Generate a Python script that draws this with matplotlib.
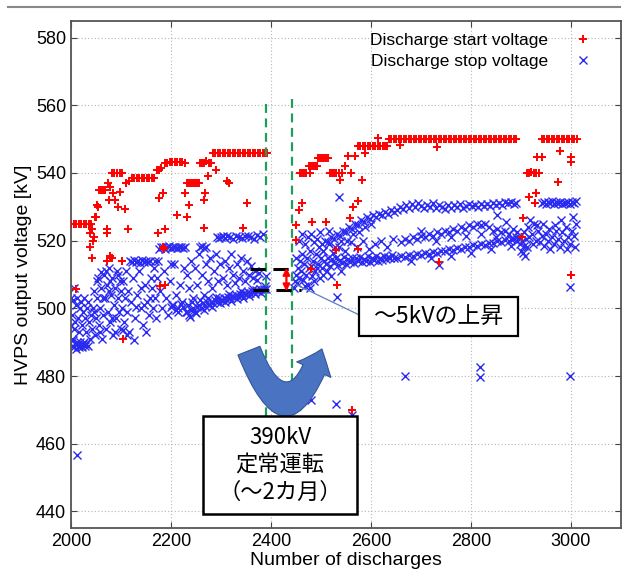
import matplotlib
matplotlib.use("Agg")
import matplotlib.pyplot as plt
from matplotlib.patches import FancyArrowPatch, Rectangle
from matplotlib.lines import Line2D

plt.rcParams["font.family"] = ["Liberation Sans", "DejaVu Sans"]
JP = ["Noto Sans CJK JP", "DejaVu Sans"]

# ── data: (number of discharges, voltage kV) ───────────────────────────────
# discharge start voltage, first period (before the 390 kV run)
start_pts_1 = [
    (2000, 525), (2005, 525), (2010, 525), (2015, 525), (2020, 525), (2025, 525),
    (2030, 525), (2035, 525), (2040, 525),
    (2056, 535), (2060, 535), (2064, 535), (2068, 535),
    (2082, 540), (2086, 540), (2092, 540), (2098, 540), (2102, 540),
    (2110, 537), (2116, 537.5), (2122, 538.5), (2127, 538.5), (2132, 538.5),
    (2137, 538.5), (2142, 538.5), (2147, 538.5), (2152, 538.5), (2157, 538.5),
    (2162, 538.5), (2167, 538.5),
    (2172, 541), (2176, 541), (2180, 541.5),
    (2188, 543), (2193, 543), (2198, 543.3), (2203, 543.3), (2208, 543.3),
    (2213, 543.3), (2218, 543.3), (2223, 543.3), (2228, 543),
    (2232, 537), (2236, 537), (2240, 537), (2244, 537), (2248, 537), (2252, 537),
    (2256, 537),
    (2258, 543), (2262, 543), (2266, 543), (2270, 543.5), (2276, 543), (2280, 543),
    (2284, 546), (2289, 546), (2294, 546), (2299, 546), (2304, 546), (2309, 546),
    (2314, 546), (2319, 546), (2324, 546), (2329, 546), (2334, 546), (2339, 546),
    (2344, 546), (2349, 546), (2354, 546), (2359, 546), (2364, 546), (2369, 546),
    (2374, 546), (2379, 546), (2384, 546), (2389, 546), (2392, 546),
]
start_scatter_1 = [
    (2038, 522.3), (2044, 520), (2038, 518), (2042, 515), (2046, 521), (2042, 523.5),
    (2048, 527), (2050, 527), (2052, 530.5), (2054, 530), (2074, 537), (2078, 536),
    (2084, 534), (2076, 532), (2088, 532), (2094, 530), (2098, 534.5), (2108, 529.5),
    (2072, 523.5), (2072, 522.3), (2114, 523.5), (2082, 515), (2072, 514),
    (2078, 515.5), (2102, 514), (2184, 518), (2188, 523.5), (2184, 534),
    (2176, 532.7), (2212, 527.6), (2232, 527), (2228, 534), (2236, 530.6),
    (2268, 534), (2266, 532), (2274, 539), (2290, 541), (2312, 537.7), (2316, 537),
    (2352, 531), (2344, 523.8), (2266, 523.8), (2174, 522.3), (2186, 517.6),
    (2010, 505.8), (2104, 491), (2178, 506.6), (2188, 507),
]
# discharge start voltage, second period (after the 390 kV run)
start_pts_2 = [
    (2458, 540), (2462, 540), (2466, 540), (2470, 540), (2478, 540),
    (2476, 542), (2480, 542), (2484, 542), (2488, 542), (2492, 542),
    (2494, 544.3), (2498, 544.3), (2502, 544.3), (2506, 544.3), (2510, 544.3),
    (2514, 544.3), (2518, 540), (2522, 540), (2526, 540), (2530, 540), (2536, 540),
    (2542, 540), (2548, 542), (2554, 545), (2560, 540), (2568, 545), (2588, 546),
    (2574, 548), (2579, 548), (2584, 548), (2589, 548), (2594, 548), (2599, 548),
    (2604, 548), (2609, 548), (2614, 548), (2619, 548), (2624, 548), (2629, 548),
    (2633, 548), (2614, 550.3),
    (2636, 550), (2641, 550), (2646, 550), (2651, 550), (2656, 550), (2661, 550),
    (2666, 550), (2671, 550), (2676, 550), (2681, 550), (2686, 550), (2691, 550),
    (2696, 550), (2701, 550), (2706, 550), (2711, 550), (2716, 550), (2721, 550),
    (2726, 550), (2731, 550), (2736, 550), (2741, 550), (2746, 550), (2751, 550),
    (2756, 550), (2761, 550), (2766, 550), (2771, 550), (2776, 550), (2781, 550),
    (2786, 550), (2791, 550), (2796, 550), (2801, 550), (2806, 550), (2811, 550),
    (2816, 550), (2821, 550), (2826, 550), (2831, 550), (2836, 550), (2841, 550),
    (2846, 550), (2851, 550), (2856, 550), (2861, 550), (2866, 550), (2871, 550),
    (2876, 550), (2881, 550), (2886, 550), (2891, 550),
    (2912, 540), (2916, 540), (2920, 540.3), (2926, 540), (2930, 540), (2936, 540),
    (2942, 550), (2947, 550), (2952, 550), (2957, 550), (2962, 550), (2967, 550),
    (2972, 550), (2977, 550), (2982, 550), (2987, 550), (2992, 550), (2997, 550),
    (3002, 550), (3007, 550), (3012, 550),
]
start_scatter_2 = [
    (2462, 531), (2456, 529), (2450, 524.7), (2450, 520.2), (2482, 525.6),
    (2510, 525.6), (2564, 530), (2574, 531.6), (2558, 526.7), (2530, 517.3),
    (2574, 517.6), (2480, 511.7), (2532, 507), (2562, 470), (2736, 513.7),
    (2538, 538), (2582, 538), (2658, 548.3), (2732, 547.6),
    (2932, 544.8), (2942, 544.8), (2978, 546.6), (3000, 543.3), (3000, 544.8),
    (2974, 537.4), (2916, 533), (2930, 534), (2928, 531), (2904, 526.7),
    (2902, 521), (3000, 510),
]

# discharge stop voltage
stop_pts_2000 = [
    (2002, 489), (2004, 490.5), (2006, 488.5), (2008, 489.5), (2010, 488),
    (2012, 490), (2014, 489), (2016, 488.5), (2018, 490), (2020, 489),
    (2022, 488.5), (2024, 489.5), (2026, 490), (2028, 488.8), (2030, 489.6),
    (2034, 489), (2000, 495), (2002, 498), (2004, 502.5), (2006, 494),
    (2008, 496), (2010, 501), (2012, 503), (2014, 497), (2016, 493), (2018, 500),
    (2020, 502), (2022, 495), (2024, 499), (2026, 503), (2028, 497), (2030, 493),
    (2032, 500), (2034, 502), (2036, 496), (2038, 491), (2040, 498),
    (2000, 503), (2001, 491), (2006, 506), (2012, 456.6),
    (2042, 494), (2044, 500), (2046, 505), (2048, 492), (2050, 497), (2052, 503),
    (2054, 509), (2056, 495), (2058, 500), (2060, 506), (2062, 491), (2064, 498),
    (2066, 510), (2068, 503), (2070, 494), (2072, 507), (2074, 499), (2076, 512),
    (2078, 496), (2080, 504), (2082, 509), (2084, 492), (2086, 501), (2088, 506),
    (2090, 497), (2092, 511), (2094, 503), (2096, 499), (2098, 508), (2100, 494),
    (2046, 499), (2052, 508), (2058, 493), (2064, 503), (2070, 511), (2076, 505),
    (2082, 497), (2088, 493), (2094, 510), (2100, 505), (2060, 510.8), (2078, 508),
]
stop_pts_2100 = [
    (2118, 514), (2122, 513.6), (2126, 514.2), (2130, 513.8), (2134, 514),
    (2138, 513.5), (2142, 514.2), (2146, 513.8), (2150, 514), (2154, 513.6),
    (2158, 514),
    (2102, 500), (2104, 508), (2106, 496), (2108, 503), (2110, 511), (2112, 499),
    (2114, 505), (2116, 493), (2120, 502), (2124, 509), (2128, 497), (2132, 504),
    (2136, 511), (2140, 500), (2144, 495), (2148, 507), (2152, 502), (2156, 498),
    (2160, 509), (2112, 492), (2126, 490.5), (2140, 506), (2150, 493), (2158, 503),
    (2104, 493.6), (2130, 500.5), (2146, 501),
    (2176, 517.5), (2180, 518), (2184, 518.2), (2188, 517.6), (2192, 518),
    (2196, 518.3), (2200, 517.8), (2204, 518), (2208, 518.2), (2212, 517.7),
    (2216, 518), (2220, 518.2), (2224, 517.8), (2228, 518),
    (2162, 506), (2164, 500), (2166, 512), (2168, 503), (2170, 497), (2172, 509),
    (2174, 514), (2178, 505), (2182, 500), (2186, 511), (2190, 503), (2194, 498),
    (2198, 508), (2202, 501), (2206, 513), (2210, 504), (2214, 499), (2218, 507),
    (2222, 502), (2226, 512), (2168, 514), (2200, 513),
    (2200, 500.5), (2205, 501), (2210, 499.5), (2215, 500), (2220, 501.2),
    (2225, 500.3), (2230, 499),
]
stop_pts_2230 = [
    (2232, 499), (2236, 498), (2238, 497.5), (2240, 499.5), (2244, 500),
    (2248, 499), (2252, 500.5), (2256, 501), (2260, 500), (2264, 501.5),
    (2268, 500.8), (2272, 501.8), (2276, 501), (2280, 502), (2284, 501.5),
    (2288, 502.5), (2292, 502), (2296, 503), (2300, 502.4),
    (2234, 501), (2242, 502), (2250, 498.5), (2258, 502.5), (2266, 499.5),
    (2274, 503), (2282, 500.5), (2290, 503.5), (2298, 501.5),
    (2232, 510), (2236, 506), (2240, 514), (2244, 503), (2248, 512), (2252, 507),
    (2256, 516), (2262, 510), (2266, 504), (2270, 513), (2274, 508), (2278, 515),
    (2282, 506), (2286, 511), (2290, 516), (2294, 508), (2298, 513),
    (2258, 518), (2262, 518.3), (2266, 517.8), (2270, 518),
    (2292, 521), (2296, 520.7), (2300, 521.2),
    (2302, 502.5), (2306, 503), (2310, 502.8), (2314, 503.3), (2318, 503),
    (2322, 503.6), (2326, 503.3), (2330, 503.9), (2334, 503.6), (2338, 504.1),
    (2342, 503.9), (2346, 504.4), (2350, 504.2), (2354, 504.7), (2358, 504.5),
    (2362, 505), (2366, 504.8), (2370, 505.3), (2374, 505.1), (2378, 505.6),
    (2382, 505.4), (2386, 505.8), (2390, 505.6),
    (2308, 501.8), (2320, 502.2), (2332, 502.8), (2344, 503.2), (2356, 503.6),
    (2368, 504.2), (2380, 504.6), (2316, 504.2), (2340, 505), (2364, 505.8),
    (2388, 506.5),
    (2304, 509), (2308, 514), (2312, 507), (2316, 512), (2320, 516), (2324, 510),
    (2328, 507.5), (2332, 513), (2336, 509), (2340, 515), (2344, 511), (2348, 508),
    (2352, 514), (2356, 510), (2360, 512.5), (2364, 509), (2368, 511),
    (2372, 508.5), (2376, 510.5), (2390, 509.5),
    (2304, 521.5), (2308, 520.8), (2312, 521.3), (2318, 521), (2324, 520.6),
    (2330, 521.4), (2336, 521), (2342, 520.7), (2348, 521.3), (2354, 521.5),
    (2360, 521), (2366, 520.6), (2372, 521.8), (2378, 521.2), (2384, 522),
]
stop_pts_2440 = [
    (2446, 506), (2448, 508), (2450, 510), (2452, 507.5), (2454, 512), (2456, 509),
    (2458, 514), (2460, 511), (2462, 516), (2464, 508.5), (2466, 513), (2468, 519),
    (2470, 510), (2472, 515), (2474, 521), (2476, 512), (2478, 517), (2480, 522),
    (2482, 509.5), (2484, 514), (2486, 519.5), (2488, 511), (2490, 516),
    (2492, 520.5), (2494, 513), (2496, 518), (2498, 509), (2500, 515),
    (2450, 515), (2456, 520), (2462, 522), (2468, 506.5), (2474, 507),
    (2480, 512.5), (2486, 508), (2492, 512), (2498, 522.5),
    (2478, 506), (2480, 472.9), (2530, 471.7), (2562, 468.5), (2532, 503.4),
    (2536, 533),
    (2502, 519), (2508, 520), (2514, 519.5), (2520, 521), (2526, 520.5),
    (2532, 522), (2538, 521.5), (2544, 523), (2550, 522.5), (2556, 524),
    (2562, 523.5), (2568, 525), (2574, 524.5), (2580, 526), (2586, 525.5),
    (2592, 527), (2598, 526.5), (2604, 527.5), (2610, 527), (2616, 528),
    (2622, 527.5), (2628, 528.5), (2634, 528), (2640, 529), (2646, 528.5),
    (2505, 517), (2517, 523), (2529, 518), (2541, 520), (2553, 520), (2565, 522),
    (2577, 522.5), (2589, 524), (2601, 525),
    (2502, 512), (2506, 514), (2510, 513), (2514, 515), (2518, 512.5),
    (2522, 514.5), (2526, 513.5), (2530, 515), (2534, 512.8), (2538, 514.2),
    (2542, 513.4), (2546, 515.3), (2550, 513), (2554, 514.6), (2558, 513.8),
    (2562, 515), (2566, 513.5), (2570, 514.8), (2574, 514), (2578, 515.2),
    (2582, 513.6), (2586, 514.7), (2590, 514), (2594, 515.4), (2598, 513.8),
    (2602, 514.9), (2606, 514.2), (2610, 515.5), (2614, 514.1), (2618, 515),
    (2622, 514.4), (2626, 515.6), (2630, 514.5), (2634, 515.3), (2638, 514.8),
    (2642, 515.8), (2646, 515),
    (2504, 517), (2516, 519), (2524, 516.5), (2536, 518), (2548, 517),
    (2560, 519.5), (2572, 518), (2584, 520), (2596, 517.5), (2608, 519),
    (2620, 520), (2632, 518), (2644, 520.5),
    (2504, 510), (2512, 511), (2520, 509.5), (2540, 511),
]
stop_pts_2650 = [
    (2652, 529), (2658, 530), (2664, 529.5), (2670, 530.5), (2676, 529.8),
    (2682, 530.8), (2688, 530), (2694, 531), (2700, 530.2), (2706, 529.6),
    (2712, 530.6), (2718, 530), (2724, 531), (2730, 529.8), (2736, 530.5),
    (2742, 530), (2748, 529.5), (2754, 530.4), (2760, 529.8), (2766, 530.6),
    (2772, 530), (2778, 530.8), (2784, 529.7), (2790, 530.3), (2796, 530.9),
    (2802, 530.1), (2808, 530.6), (2814, 529.9), (2820, 530.7), (2826, 530.2),
    (2832, 530.8), (2838, 530.3), (2844, 531), (2850, 530.4), (2856, 531.2),
    (2862, 530.6), (2868, 531.5), (2874, 531), (2880, 531.4), (2886, 530.8),
    (2890, 531.2),
    (2660, 519.5), (2668, 520.5), (2676, 520), (2684, 521), (2692, 520.5),
    (2700, 521.5), (2708, 521), (2716, 522), (2724, 521.5), (2732, 522.5),
    (2740, 522), (2748, 523), (2756, 522.5), (2764, 523.5), (2772, 523),
    (2780, 524), (2788, 523.5), (2796, 524.5), (2804, 524), (2812, 525),
    (2820, 524.5), (2828, 525), (2836, 524), (2844, 523), (2852, 523.5),
    (2860, 522.5), (2868, 523), (2876, 522), (2884, 523.5), (2892, 522.5),
    (2700, 523), (2730, 520), (2760, 521), (2790, 521.5), (2820, 522),
    (2850, 521), (2870, 525.5), (2880, 520.5), (2890, 521), (2852, 527.6),
    (2652, 515), (2660, 515.5), (2668, 515.2), (2676, 515.8), (2684, 515.5),
    (2692, 516), (2700, 515.7), (2708, 516.3), (2716, 516), (2724, 516.6),
    (2732, 516.4), (2740, 517), (2748, 516.8), (2756, 517.4), (2764, 517.2),
    (2772, 517.8), (2780, 517.6), (2788, 518.2), (2796, 518), (2804, 518.6),
    (2812, 518.4), (2820, 519), (2828, 518.8), (2836, 519.4), (2844, 519.2),
    (2852, 519.8), (2860, 519.6), (2868, 520.2), (2876, 520), (2884, 520.4),
    (2892, 519.8),
    (2680, 514), (2720, 514.8), (2760, 515.5), (2800, 516.5), (2840, 517.5),
    (2880, 518.5),
    (2668, 480), (2818, 479.7), (2818, 482.7), (2998, 480), (2736, 512.8),
]
stop_pts_2900 = [
    (2896, 521), (2898, 519), (2900, 517), (2902, 520), (2904, 516.5),
    (2906, 518.5), (2908, 515.5), (2910, 520.5), (2912, 518), (2906, 522.5),
    (2914, 524), (2918, 526), (2922, 522), (2926, 525), (2930, 520), (2934, 523),
    (2938, 519.5), (2942, 521.5), (2946, 518.5), (2950, 522), (2954, 520),
    (2958, 517.5), (2962, 521), (2966, 519), (2970, 523), (2974, 520.5),
    (2978, 518), (2982, 522.5), (2986, 520), (2990, 524), (2994, 521),
    (2998, 519), (3002, 523), (3006, 521.5), (3010, 525), (3004, 527),
    (3008, 518), (2916, 521), (2924, 519), (2932, 524.5), (2944, 525),
    (2956, 523.5), (2968, 524.5), (2980, 526), (2992, 517.5),
    (2942, 531), (2946, 531.5), (2950, 530.8), (2954, 531.3), (2958, 531),
    (2962, 531.6), (2966, 530.9), (2970, 531.4), (2974, 531), (2978, 531.5),
    (2982, 530.8), (2986, 531.2), (2990, 531), (2994, 531.5), (2998, 530.9),
    (3002, 531.3), (3006, 531), (3010, 531.8),
    (2998, 506.3),
]

start_pts = start_pts_1 + start_scatter_1 + start_pts_2 + start_scatter_2
stop_pts = (stop_pts_2000 + stop_pts_2100 + stop_pts_2230 + stop_pts_2440
            + stop_pts_2650 + stop_pts_2900)
start_x, start_y = zip(*start_pts)
stop_x, stop_y = zip(*stop_pts)

# ── figure ─────────────────────────────────────────────────────────────────
fig = plt.figure(figsize=(6.24, 5.77), dpi=100)
ax = fig.add_axes([0.1138, 0.0844, 0.881, 0.8797])

ax.plot(stop_x, stop_y, ls="none", marker="x", ms=6, mew=1.0,
        color="#2a2af0", label="Discharge stop voltage", zorder=2)
ax.plot(start_x, start_y, ls="none", marker="+", ms=6, mew=1.4,
        color="#ff0000", label="Discharge start voltage", zorder=3)

ax.set_xlim(2000, 3100)
ax.set_ylim(435, 585)
ax.set_xticks([2000, 2200, 2400, 2600, 2800, 3000])
ax.set_yticks([440, 460, 480, 500, 520, 540, 560, 580])
ax.grid(True, ls=(0, (1, 2)), color="#b5b5b5", lw=0.8, zorder=0)
ax.tick_params(direction="in", top=True, right=True, length=4,
               labelsize=13, color="#444")
for sp in ax.spines.values():
    sp.set_color("#555")
    sp.set_linewidth(1.3)
ax.set_xlabel("Number of discharges", fontsize=14, labelpad=1)
ax.set_ylabel("HVPS output voltage [kV]", fontsize=14, labelpad=3)

h, l = ax.get_legend_handles_labels()
leg = ax.legend(h[::-1], l[::-1], loc="upper right", markerfirst=False,
                bbox_to_anchor=(0.978, 1.006), frameon=False, fontsize=12.5,
                handlelength=1.2, handletextpad=1.4, borderpad=0.4,
                labelspacing=0.3)

# ── annotations ────────────────────────────────────────────────────────────
for xg, ytop in [(2390, 560.5), (2442, 562)]:
    ax.plot([xg, xg], [ytop, 460], color="#1e9e5a", lw=1.6,
            ls=(0, (4, 2.5)), zorder=4)
ax.plot([2358, 2451], [511.7, 511.7], color="black", lw=2.2,
        ls=(0, (5, 2.5)), zorder=4)
ax.plot([2365, 2461], [505.3, 505.3], color="black", lw=2.2,
        ls=(0, (5, 2.5)), zorder=4)
ax.annotate("", xy=(2431, 505.0), xytext=(2431, 512.0),
            arrowprops=dict(arrowstyle="<|-|>", color="red", lw=1.6,
                            mutation_scale=10, shrinkA=0, shrinkB=0),
            zorder=5)

# callout for the ~5 kV rise
ax.plot([2448, 2576], [507.2, 498.1], color="#5b7fc0", lw=0.9, zorder=5)
ax.add_patch(Rectangle((2576, 491.9), 318, 11.5, facecolor="white",
                       edgecolor="black", lw=1.6, zorder=7))
ax.text(2735, 497.7, "～5kVの上昇", family=JP, fontsize=16.5,
        ha="center", va="center", zorder=8)

# U-turn arrow (390 kV steady operation)
uarrow = FancyArrowPatch((2356, 487.5), (2502, 488),
                         connectionstyle="arc3,rad=1.35",
                         arrowstyle="simple,head_length=1.6,head_width=2.7,tail_width=1.7",
                         mutation_scale=10, shrinkA=0, shrinkB=0,
                         facecolor="#4a73c2", edgecolor="#33569a", lw=0.8,
                         zorder=6)
ax.add_patch(uarrow)

ax.add_patch(Rectangle((2264, 439.2), 308, 29.0, facecolor="white",
                       edgecolor="black", lw=1.8, zorder=7))
ax.text(2418, 453.8, "390kV\n定常運転\n（～2カ月）", family=JP, fontsize=16,
        ha="center", va="center", linespacing=1.25, zorder=8)

# slide separator line at the very top
fig.add_artist(Line2D([8 / 624, 620 / 624], [1 - 7 / 577, 1 - 7 / 577],
                      color="#888", lw=1.5))

fig.savefig("out.png", dpi=100)
